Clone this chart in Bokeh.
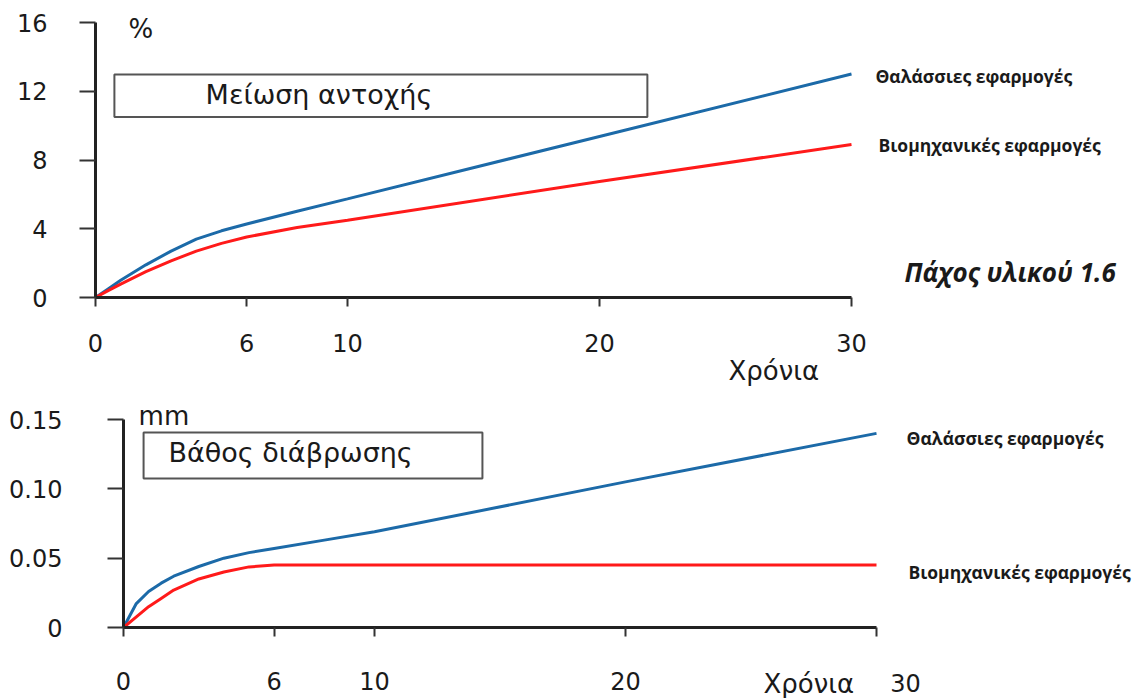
from bokeh.plotting import figure
from bokeh.layouts import column
from bokeh.models import Range1d, FixedTicker
from bokeh.core.properties import value
from bokeh.embed import file_html
from bokeh.resources import INLINE

# ---- Strength loss (%) over the years ----
years_top = [0, 0.5, 1, 2, 3, 4, 5, 6, 8, 10, 20, 30]
marine_top = [0, 0.5, 1.0, 1.9, 2.7, 3.4, 3.88, 4.28, 5.02, 5.74, 9.37, 13.0]
industrial_top = [0, 0.4, 0.78, 1.5, 2.13, 2.7, 3.15, 3.52, 4.07, 4.5, 6.75, 8.9]
x_ticks_top = [0, 6, 10, 20, 30]
y_ticks_top = [0, 4, 8, 12, 16]

# ---- Corrosion depth (mm) over the years ----
years_bot = [0, 0.5, 1, 1.5, 2, 3, 4, 5, 6, 8, 10, 20, 30]
marine_bot = [0, 0.017, 0.026, 0.032, 0.037, 0.044, 0.050, 0.054, 0.057, 0.063, 0.069, 0.105, 0.140]
industrial_bot = [0, 0.0075, 0.015, 0.021, 0.027, 0.035, 0.040, 0.0437, 0.045, 0.045, 0.045, 0.045, 0.045]
x_ticks_bot = [0, 6, 10, 20, 30]
y_ticks_bot = [0, 0.05, 0.10, 0.15]
y_labels_bot = ["0", "0.05", "0.10", "0.15"]

series_names = ["Θαλάσσιες εφαρμογές", "Βιομηχανικές εφαρμογές"]

BLUE = "#1c6aa8"
RED = "#ff1a1a"
AXIS = "#222222"
TEXT = "#1a1a1a"
TICK_FONT = "DejaVu Sans"
NOTE_FONT = "Open Sans"
WIDTH = 1141


def panel(height, x0_px, x_end_px, y_top_px, y0_px, x_max, y_max, x_std, y_std):
    """Figure whose frame fills the canvas; axes pinned at the data origin."""
    xu = (x_end_px - x0_px) / x_max
    yu = (y0_px - y_top_px) / y_max
    p = figure(width=WIDTH, height=height,
               x_range=Range1d(-x0_px / xu, (WIDTH - x0_px) / xu),
               y_range=Range1d(-(height - y0_px) / yu, y_max + y_top_px / yu),
               output_backend="svg", toolbar_location=None,
               min_border=0, min_border_left=0, min_border_right=0,
               min_border_top=0, min_border_bottom=0)
    p.grid.visible = False
    p.outline_line_color = None
    p.background_fill_color = "white"
    p.border_fill_color = "white"
    p.xaxis.fixed_location = 0
    p.yaxis.fixed_location = 0
    p.xaxis.bounds = (0, x_max)
    p.yaxis.bounds = (0, y_max)
    for ax in (p.xaxis[0], p.yaxis[0]):
        ax.axis_line_color = AXIS
        ax.axis_line_width = 3
        ax.major_tick_line_color = "#333333"
        ax.major_tick_line_width = 2
        ax.major_tick_in = 0
        ax.minor_tick_out = 0
        ax.minor_tick_in = 0
        ax.major_label_text_font = TICK_FONT
        ax.major_label_text_font_size = "24px"
        ax.major_label_text_color = TEXT
    p.xaxis.major_tick_out = 9
    p.yaxis.major_tick_out = 16
    p.xaxis.major_label_standoff = x_std
    p.yaxis.major_label_standoff = y_std
    return p


def note(p, x, y, text, size, font=NOTE_FONT, style="bold", align="left"):
    p.text(x=[x], y=[y], text=[text], text_font=value(font),
           text_font_size=size, text_font_style=style, text_color=TEXT,
           text_align=align, text_baseline="middle")


# ---------------- upper panel ----------------
top = panel(392, 95, 851, 22, 297, 30, 16, 27, 32)
top.xaxis.ticker = FixedTicker(ticks=x_ticks_top, minor_ticks=[])
top.yaxis.ticker = FixedTicker(ticks=y_ticks_top, minor_ticks=[])

top.quad(left=0.75, right=21.9, bottom=10.5, top=12.97,
         fill_color="white", line_color="#555555", line_width=2)
note(top, 4.37, 11.8, "Μείωση αντοχής", "27px", font="DejaVu Sans",
     style="normal")

top.line(years_top, marine_top, line_color=BLUE, line_width=3)
top.line(years_top, industrial_top, line_color=RED, line_width=3)

note(top, 1.31, 15.65, "%", "26px", font="DejaVu Sans", style="normal")
note(top, 30.95, 12.91, series_names[0], "17.5px")
note(top, 31.07, 8.9, series_names[1], "17.5px")
note(top, 32.1, 1.51, "Πάχος υλικού 1.6", "26px", style="bold italic")
note(top, 25.12, -4.3, "Χρόνια", "26px", font="DejaVu Sans", style="normal")

# ---------------- lower panel ----------------
bot = panel(306, 123, 876, 27, 235, 30, 0.15, 35, 45)
bot.xaxis.ticker = FixedTicker(ticks=x_ticks_bot, minor_ticks=[])
bot.yaxis.ticker = FixedTicker(ticks=y_ticks_bot, minor_ticks=[])
bot.yaxis.major_label_overrides = {t: s for t, s in zip(y_ticks_bot, y_labels_bot)}
bot.xaxis.major_label_overrides = {30: ""}

bot.quad(left=0.8, right=14.3, bottom=0.1074, top=0.1406,
         fill_color="white", line_color="#555555", line_width=2)
note(bot, 1.79, 0.1262, "Βάθος διάβρωσης", "27px", font="DejaVu Sans",
     style="normal")

bot.line(years_bot, marine_bot, line_color=BLUE, line_width=3)
bot.line(years_bot, industrial_bot, line_color=RED, line_width=3)

note(bot, 0.6, 0.1522, "mm", "26px", font="DejaVu Sans", style="normal")
note(bot, 31.2, 0.137, series_names[0], "17.5px")
note(bot, 31.27, 0.0397, series_names[1], "17.5px")
note(bot, 31.16, -0.0397, "30", "24px", font=TICK_FONT, style="normal",
     align="center")
note(bot, 25.5, -0.0411, "Χρόνια", "26px", font="DejaVu Sans", style="normal")

layout = column(top, bot, spacing=0)
open("out.html", "w").write(file_html(layout, INLINE))
